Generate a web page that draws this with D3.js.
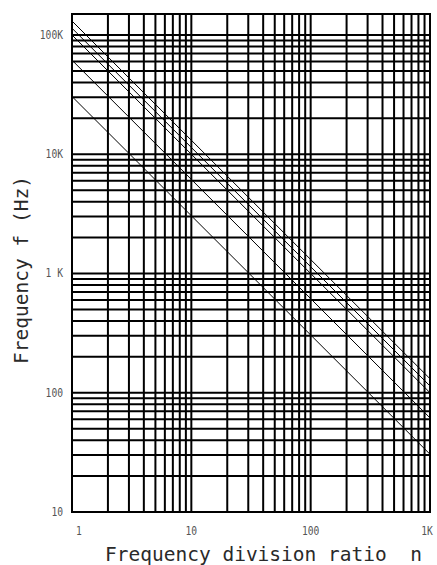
<!DOCTYPE html>
<html>
<head>
<meta charset="utf-8">
<script src="https://cdn.jsdelivr.net/npm/d3@7"></script>
<style>
  body { margin: 0; background: #fff; }
  svg { display: block; }
  .grid line { stroke: #000; stroke-width: 2; }
  .ratio line { stroke: #000; stroke-width: 1; }
  .tick-label { font-family: 'DejaVu Sans Mono', monospace; font-size: 12px; fill: #555; }
  .title { font-family: 'DejaVu Sans Mono', monospace; font-size: 19.5px; fill: #2a2a2a; white-space: pre; }
</style>
</head>
<body>
<svg id="chart" width="437" height="565"></svg>
<script>
// ratio axis (n) and frequency axis (Hz)
const ratioDomain = [1, 1000]
const freqDomain = [10, 150000]

const xTickValues = [1, 10, 100, 1000]
const xTickLabels = ['1', '10', '100', '1K']
const yTickValues = [10, 100, 1000, 10000, 100000]
const yTickLabels = ['10', '100', '1 K', '10K', '100K']

// source frequency of each line, f = f0 / n
const baseFrequencies = [131000, 114000, 100000, 61500, 30500]

const xTitle = 'Frequency division ratio  n'
const yTitle = 'Frequency f (Hz)'

const box = { left: 72, right: 430, top: 14, bottom: 512 }

const svg = d3.select('#chart')

const x = d3.scaleLog().domain(ratioDomain).range([box.left, box.right])
const y = d3.scaleLog().domain(freqDomain).range([box.bottom, box.top])

// grid, every 1..9 step of each decade
const grid = svg.append('g').attr('class', 'grid')

grid.selectAll('line.v')
  .data(x.ticks())
  .enter()
  .append('line')
  .attr('class', 'v')
  .attr('x1', d => x(d))
  .attr('x2', d => x(d))
  .attr('y1', box.top)
  .attr('y2', box.bottom)

grid.selectAll('line.h')
  .data(y.ticks())
  .enter()
  .append('line')
  .attr('class', 'h')
  .attr('x1', box.left)
  .attr('x2', box.right)
  .attr('y1', d => y(d))
  .attr('y2', d => y(d))

grid.append('rect')
  .attr('x', box.left)
  .attr('y', box.top)
  .attr('width', box.right - box.left)
  .attr('height', box.bottom - box.top)
  .attr('fill', 'none')
  .attr('stroke', '#000')
  .attr('stroke-width', 2)

// f = f0 / n lines
svg.append('g').attr('class', 'ratio')
  .selectAll('line')
  .data(baseFrequencies)
  .enter()
  .append('line')
  .attr('x1', x(ratioDomain[0]))
  .attr('x2', x(ratioDomain[1]))
  .attr('y1', f0 => y(f0 / ratioDomain[0]))
  .attr('y2', f0 => y(f0 / ratioDomain[1]))

// tick labels, squeezed like the narrow plotter font
const narrow = label => label.length * 5.8
const last = xTickValues.length - 1

svg.append('g')
  .selectAll('text')
  .data(xTickValues)
  .enter()
  .append('text')
  .attr('class', 'tick-label')
  .attr('x', (d, i) => i === 0 ? x(d) + 7 : i === last ? x(d) - 3 : x(d))
  .attr('y', 535)
  .attr('text-anchor', 'middle')
  .attr('textLength', (d, i) => narrow(xTickLabels[i]))
  .attr('lengthAdjust', 'spacingAndGlyphs')
  .text((d, i) => xTickLabels[i])

svg.append('g')
  .selectAll('text')
  .data(yTickValues)
  .enter()
  .append('text')
  .attr('class', 'tick-label')
  .attr('x', 63)
  .attr('y', d => y(d) + 4)
  .attr('text-anchor', 'end')
  .attr('textLength', (d, i) => narrow(yTickLabels[i]))
  .attr('lengthAdjust', 'spacingAndGlyphs')
  .text((d, i) => yTickLabels[i])

svg.append('text')
  .attr('class', 'title')
  .attr('x', 105)
  .attr('y', 561)
  .text(xTitle)

svg.append('text')
  .attr('class', 'title')
  .attr('transform', 'translate(28,270) rotate(-90)')
  .attr('text-anchor', 'middle')
  .text(yTitle)
</script>
</body>
</html>
